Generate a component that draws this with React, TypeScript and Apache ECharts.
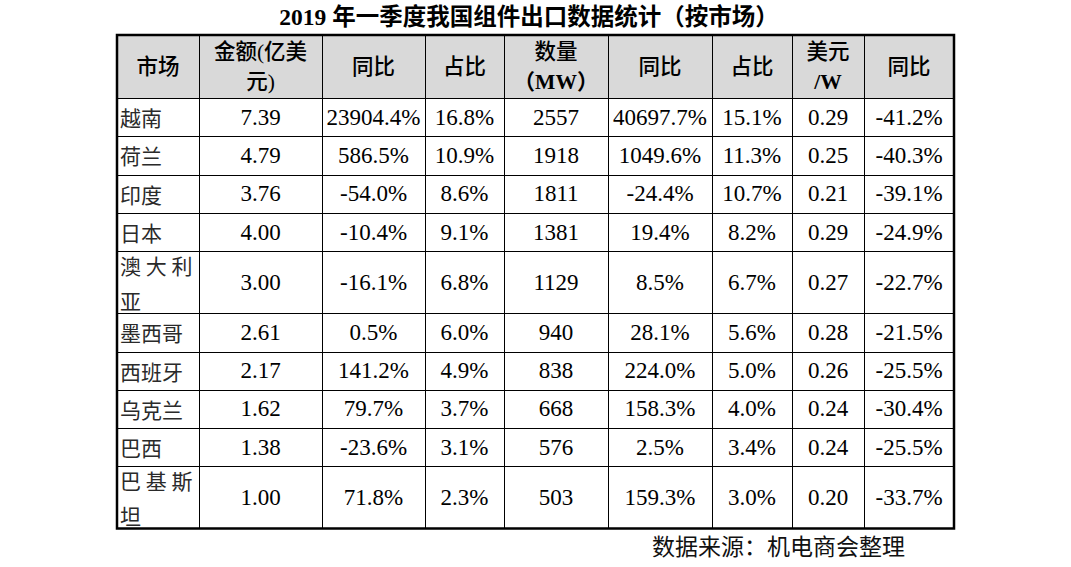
import React, { useEffect, useRef } from "react";
import * as echarts from "echarts";

const title = "2019 年一季度我国组件出口数据统计（按市场）";
const source = "数据来源：机电商会整理";
const headers: string[][] = [
  ["市场"],
  ["金额(亿美", "元)"],
  ["同比"],
  ["占比"],
  ["数量", "（MW）"],
  ["同比"],
  ["占比"],
  ["美元", "/W"],
  ["同比"],
];
const markets = ["越南", "荷兰", "印度", "日本", "澳大利亚", "墨西哥", "西班牙", "乌克兰", "巴西", "巴基斯坦"];
const amount = [7.39, 4.79, 3.76, 4.0, 3.0, 2.61, 2.17, 1.62, 1.38, 1.0];
const amountYoY = [23904.4, 586.5, -54.0, -10.4, -16.1, 0.5, 141.2, 79.7, -23.6, 71.8];
const amountShare = [16.8, 10.9, 8.6, 9.1, 6.8, 6.0, 4.9, 3.7, 3.1, 2.3];
const volume = [2557, 1918, 1811, 1381, 1129, 940, 838, 668, 576, 503];
const volumeYoY = [40697.7, 1049.6, -24.4, 19.4, 8.5, 28.1, 224.0, 158.3, 2.5, 159.3];
const volumeShare = [15.1, 11.3, 10.7, 8.2, 6.7, 5.6, 5.0, 4.0, 3.4, 3.0];
const price = [0.29, 0.25, 0.21, 0.29, 0.27, 0.28, 0.26, 0.24, 0.24, 0.2];
const priceYoY = [-41.2, -40.3, -39.1, -24.9, -22.7, -21.5, -25.5, -30.4, -25.5, -33.7];

// layout
const COLS = [117, 199, 322, 425, 504, 608, 712, 792, 864, 954];
const TOP = 35;
const HEAD_H = 63;
const ROW_H = 38.3;
const WRAP_H = 62;
const CJK = "'Noto Sans CJK SC', sans-serif";
const NUM = "'Liberation Serif', 'Noto Sans CJK SC', serif";

const pct = (v: number) => v.toFixed(1) + "%";

function buildGraphic() {
  const els: any[] = [];
  const rowsCells = markets.map((m, i) => [
    m,
    amount[i].toFixed(2),
    pct(amountYoY[i]),
    pct(amountShare[i]),
    String(volume[i]),
    pct(volumeYoY[i]),
    pct(volumeShare[i]),
    price[i].toFixed(2),
    pct(priceYoY[i]),
  ]);
  const heights = markets.map((m) => (m.length > 3 ? WRAP_H : ROW_H));
  const left = COLS[0];
  const right = COLS[COLS.length - 1];
  const bottom = TOP + HEAD_H + heights.reduce((a, b) => a + b, 0);

  const txt = (x: number, y: number, text: string, font: any, align = "center") => ({
    type: "text",
    x,
    y,
    silent: true,
    style: {
      text,
      fill: font.fill || "#000",
      fontSize: font.size,
      fontFamily: font.family,
      fontWeight: font.weight || "normal",
      align,
      verticalAlign: "middle",
      textAlign: align,
      textVerticalAlign: "middle",
    },
  });

  // header background
  els.push({
    type: "rect",
    shape: { x: left, y: TOP, width: right - left, height: HEAD_H },
    style: { fill: "#d9d9d9" },
    silent: true,
  });

  // horizontal lines
  let y = TOP + HEAD_H;
  const hLines = [y];
  heights.forEach((h) => {
    y += h;
    hLines.push(y);
  });
  hLines.slice(0, -1).forEach((yy) => {
    const ry = Math.round(yy) + 0.5;
    els.push({
      type: "line",
      shape: { x1: left, y1: ry, x2: right, y2: ry },
      style: { stroke: "#000", lineWidth: 1 },
      silent: true,
    });
  });
  // vertical lines
  COLS.slice(1, -1).forEach((x) => {
    els.push({
      type: "line",
      shape: { x1: x + 0.5, y1: TOP, x2: x + 0.5, y2: bottom },
      style: { stroke: "#000", lineWidth: 1 },
      silent: true,
    });
  });
  // outer border
  els.push({
    type: "rect",
    shape: { x: left, y: TOP, width: right - left, height: bottom - TOP },
    style: { fill: null, stroke: "#000", lineWidth: 2.5 },
    silent: true,
  });

  // title
  els.push(txt(529, 17, title, { size: 23.5, family: NUM, weight: "bold" }));

  // headers
  headers.forEach((lines, c) => {
    const cx = (COLS[c] + COLS[c + 1]) / 2;
    const cy = TOP + HEAD_H / 2;
    lines.forEach((ln, k) => {
      const off = lines.length === 1 ? 0 : (k - (lines.length - 1) / 2) * 30;
      const latin = /^[（(]?[A-Za-z/]/.test(ln) || /MW/.test(ln);
      els.push(
        txt(cx, cy + off, ln, { size: 21.5, family: NUM, weight: latin ? "bold" : "500", fill: "#000" })
      );
    });
  });

  // body
  let top = TOP + HEAD_H;
  rowsCells.forEach((cells, r) => {
    const h = heights[r];
    const cy = top + h / 2;
    cells.forEach((val, c) => {
      if (c === 0) {
        const lines = val.length > 3 ? [val.slice(0, 3).split("").join(" "), val.slice(3)] : [val];
        lines.forEach((ln, k) => {
          const off = lines.length === 1 ? 0 : (k - 0.5) * 35;
          els.push(txt(COLS[0] + 3, cy + off, ln, { size: 21, family: CJK, fill: "#2a2a2a" }, "left"));
        });
      } else {
        const cx = (COLS[c] + COLS[c + 1]) / 2;
        els.push(txt(cx, cy, val, { size: 23, family: NUM }));
      }
    });
    top += h;
  });

  // source
  els.push(txt(652, 545, source, { size: 23, family: CJK, fill: "#111" }, "left"));

  return els;
}

export default function App() {
  const ref = useRef<HTMLDivElement>(null);
  useEffect(() => {
    if (!ref.current) return;
    const chart = echarts.init(ref.current, null, { renderer: "svg" });
    chart.setOption({
      animation: false,
      backgroundColor: "#ffffff",
      graphic: { elements: buildGraphic() },
    });
    return () => chart.dispose();
  }, []);
  return (
    <div
      ref={ref}
      style={{ position: "fixed", left: 0, top: 0, width: 1071, height: 567, background: "#fff" }}
    />
  );
}
